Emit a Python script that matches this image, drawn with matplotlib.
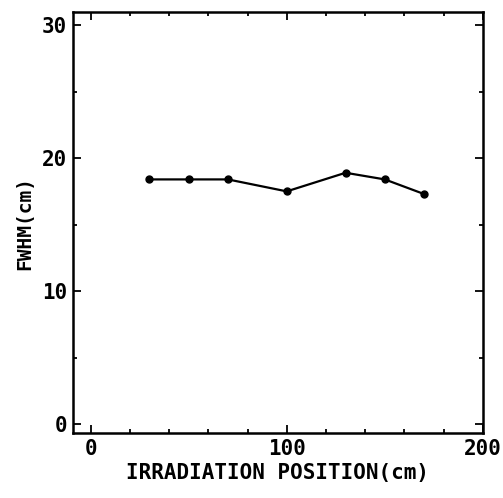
import matplotlib
matplotlib.use('Agg')
import matplotlib.pyplot as plt
from matplotlib.ticker import MultipleLocator

# irradiation position (cm) vs FWHM (cm)
positions = [30, 50, 70, 100, 130, 150, 170]
fwhm = [18.4, 18.4, 18.4, 17.5, 18.9, 18.4, 17.3]

plt.rcParams['font.family'] = 'DejaVu Sans Mono'
plt.rcParams['font.weight'] = 'bold'

fig = plt.figure(figsize=(5.03, 4.98), dpi=100)
ax = fig.add_axes([0.145, 0.130, 0.815, 0.846])

ax.plot(positions, fwhm, color='black', linewidth=1.6, marker='o', markersize=5)

ax.set_xlim(-9, 200)
ax.set_ylim(-0.7, 31)
ax.xaxis.set_major_locator(MultipleLocator(100))
ax.xaxis.set_minor_locator(MultipleLocator(20))
ax.yaxis.set_major_locator(MultipleLocator(10))
ax.yaxis.set_minor_locator(MultipleLocator(5))
ax.tick_params(which='both', direction='in', top=True, right=True, width=1.3)
ax.tick_params(which='major', length=6, labelsize=15, pad=4)
ax.tick_params(which='minor', length=3)
for s in ax.spines.values():
    s.set_linewidth(1.8)

ax.set_xlabel('IRRADIATION POSITION(cm)', fontsize=15, fontweight='bold', labelpad=3)
ax.set_ylabel('FWHM(cm)', fontsize=14, fontweight='bold', labelpad=6)

plt.savefig('out.png', dpi=100)
